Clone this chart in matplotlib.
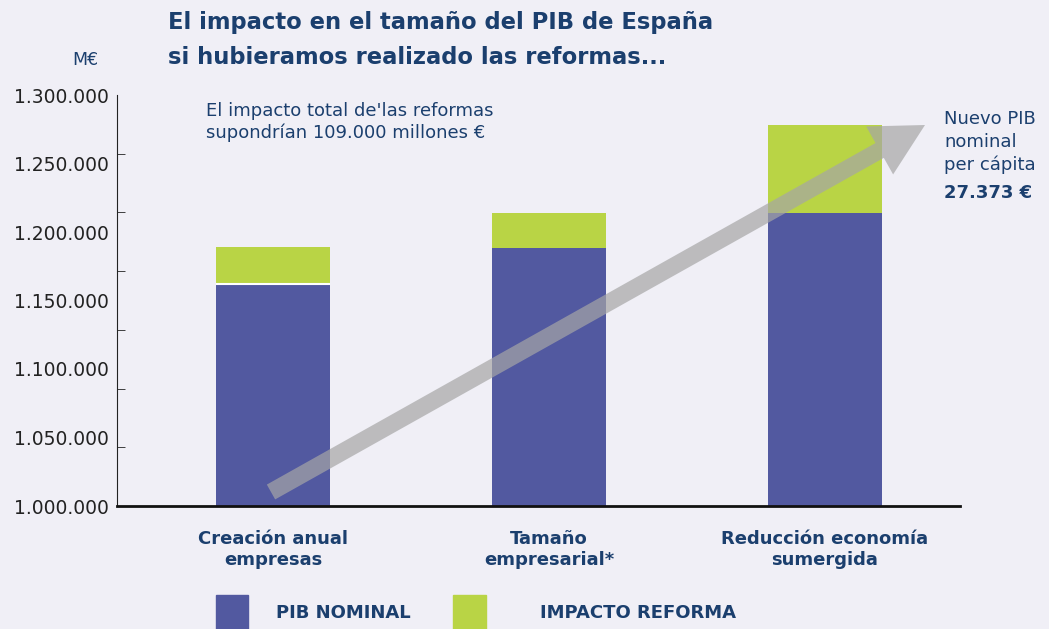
import numpy as np
import matplotlib
matplotlib.use("Agg")
import matplotlib.pyplot as plt
import matplotlib.patches as mpatches
from matplotlib.transforms import IdentityTransform

# Data (millones de euros)
categorias = ["Creación anual\nempresas", "Tamaño\nempresarial*", "Reducción economía\nsumergida"]
pib_nominal = [1162000, 1188000, 1214000]
total_con_reforma = [1189000, 1214000, 1278000]
impacto_reforma = [t - p for t, p in zip(total_con_reforma, pib_nominal)]
etiquetas_y = [1000000, 1050000, 1100000, 1150000, 1200000, 1250000, 1300000]

AZUL = "#5259a0"
VERDE = "#b9d445"
TEXTO = "#1b3f6e"
FONDO = "#f0eff6"

plt.rcParams['font.family'] = ['DejaVu Sans']

fig = plt.figure(figsize=(10.49, 6.29), dpi=100, facecolor=FONDO)
ax = fig.add_axes([117/1049, 1 - 506/629, 843/1049, 411/629])
ax.set_facecolor(FONDO)

x = np.arange(len(categorias))
ax.bar(x, pib_nominal, width=0.413, color=AZUL, bottom=0, zorder=2)
ax.bar(x, impacto_reforma, width=0.413, bottom=pib_nominal, color=VERDE, zorder=2)
# thin separator on first bar
ax.hlines(pib_nominal[0], x[0] - 0.2065, x[0] + 0.2065, color="white", lw=1.5, zorder=3)

ax.set_xlim(-0.565, 2.489)
ax.set_ylim(1000000, 1300000)

for s in ["top", "right"]:
    ax.spines[s].set_visible(False)
ax.spines["left"].set_color("#222222")
ax.spines["bottom"].set_color("#111111")
ax.spines["bottom"].set_linewidth(2)

ax.set_yticks(etiquetas_y)
ax.set_yticklabels([f"{v:,}".replace(",", ".") for v in etiquetas_y], fontsize=13.5, color="#222222")
ax.tick_params(axis="y", which="major", length=0, pad=6)
ax.set_yticks(np.linspace(1000000, 1300000, 8), minor=True)
ax.tick_params(axis="y", which="minor", length=6, direction="in", color="#222222")

ax.set_xticks(x)
ax.set_xticklabels(categorias, fontsize=13, fontweight="bold", color=TEXTO, linespacing=1.25)
ax.tick_params(axis="x", length=0, pad=17)

# Arrow (pixel coordinates)
tail = (271, 629 - 492)
tip = (925, 629 - 125)
arrow = mpatches.FancyArrow(tail[0], tail[1], tip[0] - tail[0], tip[1] - tail[1],
                            width=17, head_width=55, head_length=52,
                            length_includes_head=True, transform=IdentityTransform(),
                            color="#a6a6a6", alpha=0.7, lw=0, zorder=5)
fig.add_artist(arrow)

# Titles and notes
fig.text(168/1049, 1 - 40/629, "El impacto en el tamaño del PIB de España\nsi hubieramos realizado las reformas...",
         fontsize=16.3, fontweight="bold", color=TEXTO, va="center", linespacing=1.65)
fig.text(72/1049, 1 - 60/629, "M€", fontsize=12.5, color=TEXTO, va="center")
fig.text(206/1049, 1 - 122/629, "El impacto total de'las reformas\nsupondrían 109.000 millones €",
         fontsize=13, color=TEXTO, va="center", linespacing=1.3)
fig.text(944/1049, 1 - 142/629, "Nuevo PIB\nnominal\nper cápita",
         fontsize=13, color=TEXTO, va="center", linespacing=1.3)
fig.text(944/1049, 1 - 193/629, "27.373 €", fontsize=13, fontweight="bold", color=TEXTO, va="center")

# Legend
fig.add_artist(mpatches.Rectangle((216/1049, 0), 32/1049, 34/629, transform=fig.transFigure, color=AZUL))
fig.add_artist(mpatches.Rectangle((453/1049, 0), 33/1049, 34/629, transform=fig.transFigure, color=VERDE))
fig.text(276/1049, 1 - 613/629, "PIB NOMINAL", fontsize=13, fontweight="bold", color=TEXTO, va="center")
fig.text(540/1049, 1 - 613/629, "IMPACTO REFORMA", fontsize=13, fontweight="bold", color=TEXTO, va="center")

fig.savefig("out.png", dpi=100, facecolor=FONDO)
